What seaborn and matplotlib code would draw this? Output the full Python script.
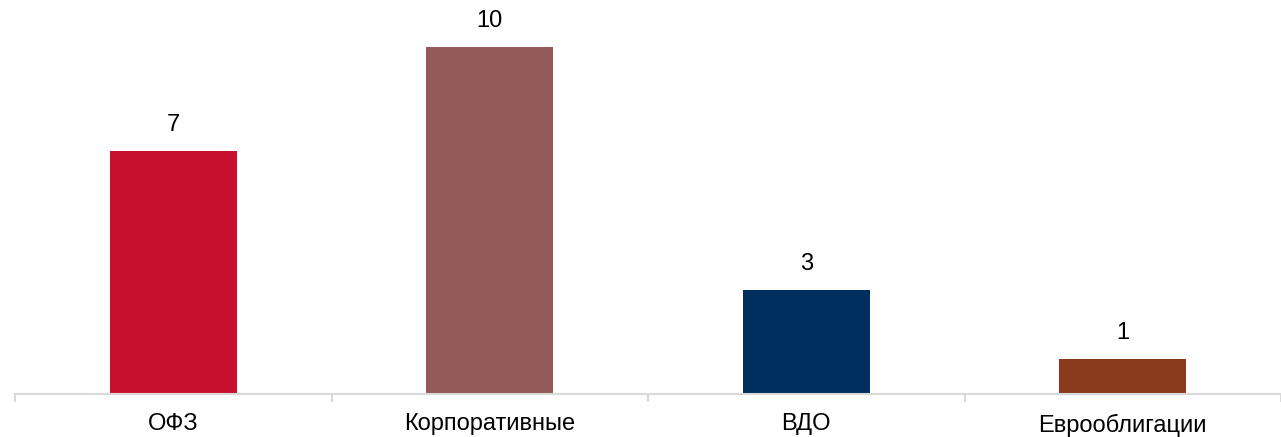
import numpy as np
import pandas as pd
import matplotlib
matplotlib.use("Agg")
import matplotlib.pyplot as plt
import seaborn as sns

# данные
categories = ["ОФЗ", "Корпоративные", "ВДО", "Еврооблигации"]
values = [7, 10, 3, 1]
colors = ["#C8102E", "#935A59", "#002F5F", "#8B3A1E"]

df = pd.DataFrame({"cat": categories, "val": values})

sns.set_theme(style="white")
plt.rcParams["font.family"] = ["Liberation Sans", "DejaVu Sans"]

fig = plt.figure(figsize=(12.81, 4.37), dpi=100)
ax = fig.add_axes([15 / 1281, 43 / 437, 1266 / 1281, 394 / 437])

sns.barplot(data=df, x="cat", y="val", hue="cat", palette=colors,
            width=0.40, legend=False, ax=ax, saturation=1, linewidth=0)

for i, v in enumerate(values):
    ax.annotate(str(v), (i, v), xytext=(0, 11), textcoords="offset points",
                ha="center", va="bottom", fontsize=17, color="#000000")

ax.set_xlim(-0.5, 3.5)
ax.set_ylim(0, 11.35)
ax.set_xlabel("")
ax.set_ylabel("")
ax.set_yticks([])

for s in ["top", "right", "left"]:
    ax.spines[s].set_visible(False)
ax.spines["bottom"].set_color("#D9D9D9")
ax.spines["bottom"].set_linewidth(1.5)

ax.set_xticks(np.arange(-0.5, 4.0, 1.0), minor=True)
ax.tick_params(axis="x", which="major", bottom=False, length=0, pad=14,
               labelsize=17, labelcolor="#000000")
ax.tick_params(axis="x", which="minor", bottom=True, length=6, width=1.5,
               color="#D9D9D9", direction="out")

fig.savefig("out.png", dpi=100)
